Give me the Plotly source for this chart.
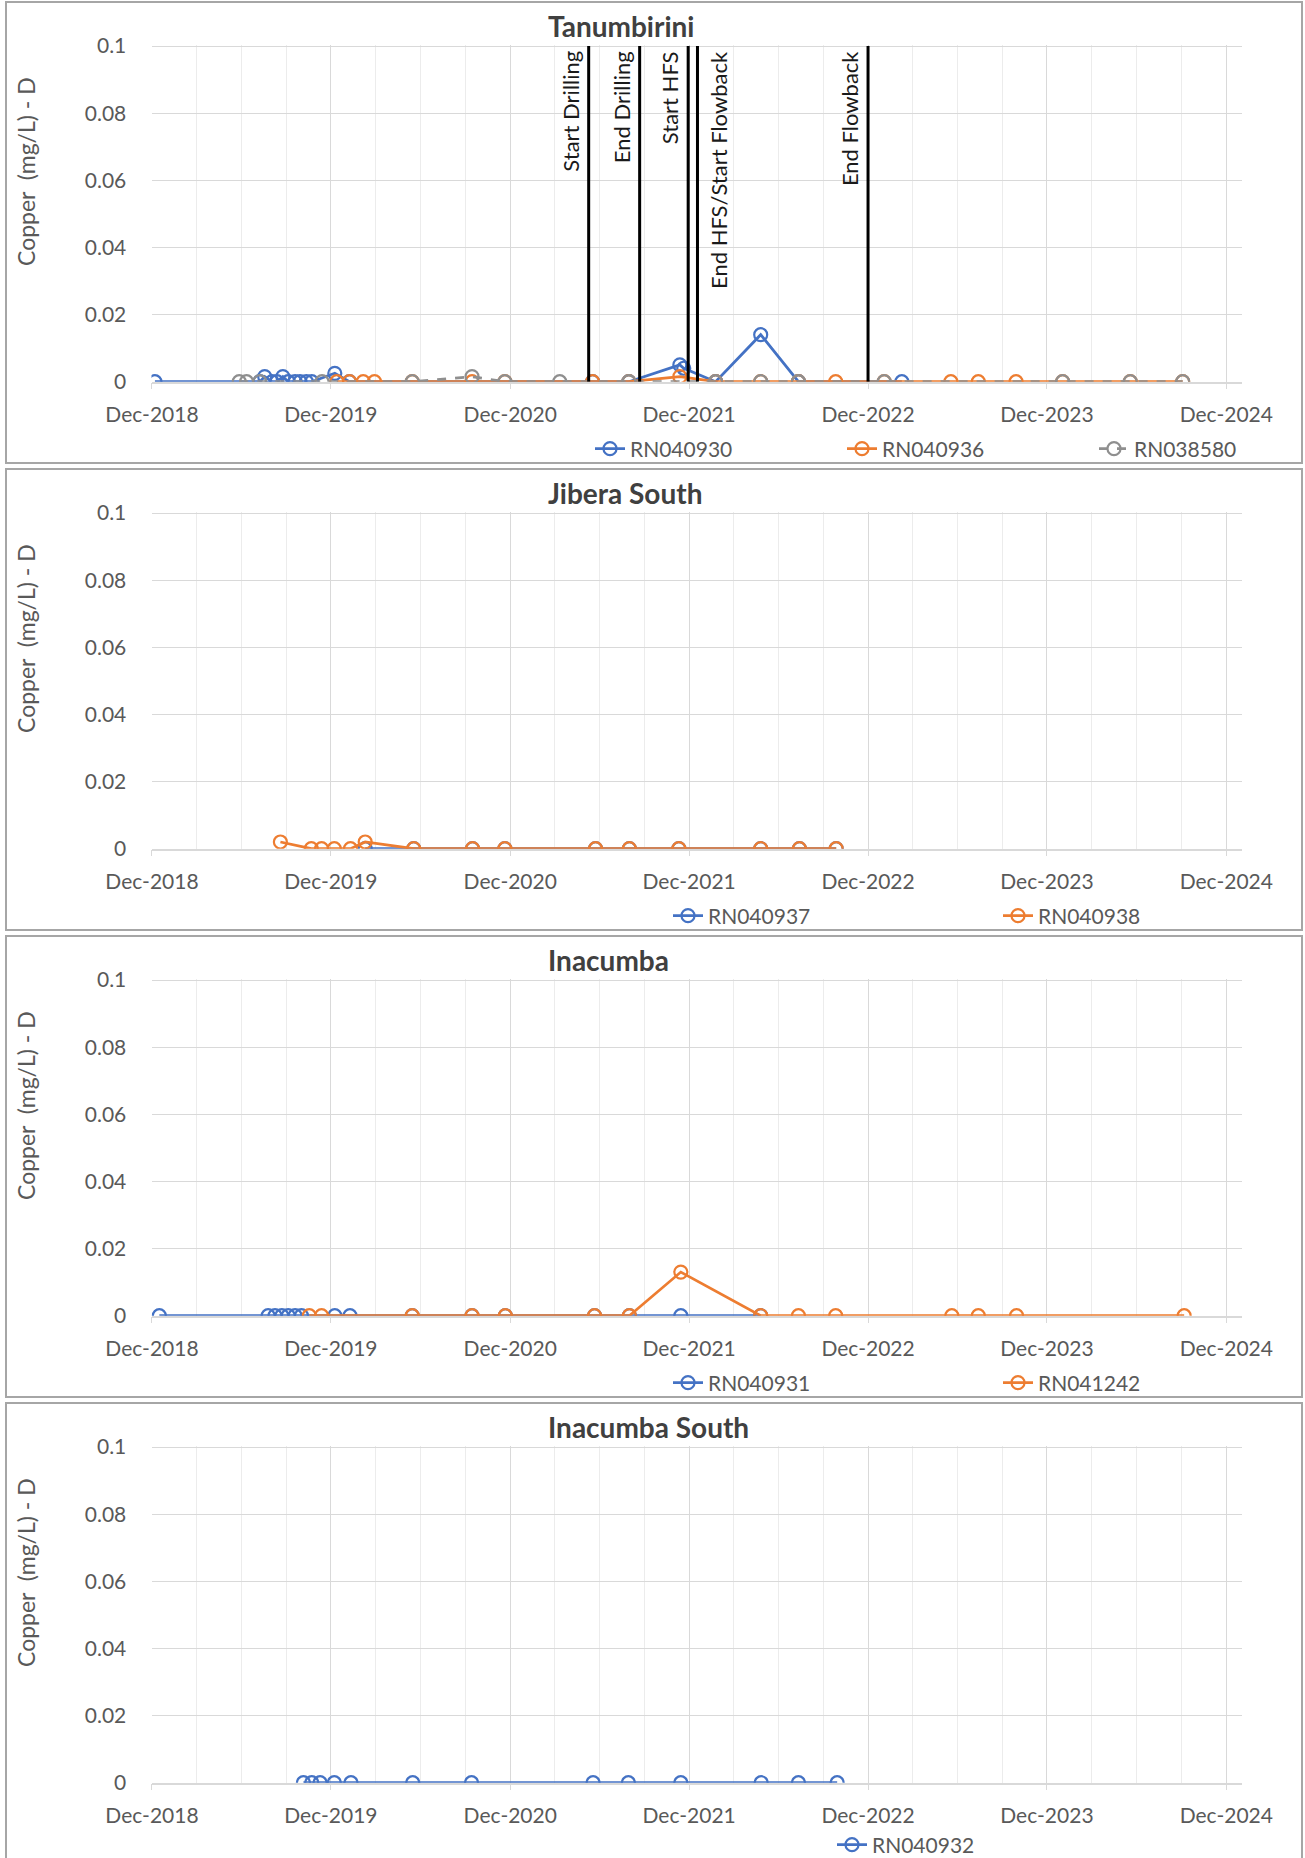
import plotly.graph_objects as go

W, H = 1305, 1858
BLUE = "#4472C4"
ORANGE = "#ED7D31"
GRAY = "#8f8f8f"
FONT = "Lato"
TXT = "#595959"

# ---------------- data ----------------
panel_titles = ["Tanumbirini", "Jibera South", "Inacumba", "Inacumba South"]
y_title = "Copper  (mg/L) - D"
x_tick_start = "2018-12-01"
x_range = ["2018-11-30", "2025-01-01"]

# Tanumbirini
tan_930_dates = ["2018-12-07", "2019-07-09", "2019-07-19", "2019-08-03", "2019-08-13", "2019-08-25",
                 "2019-09-05", "2019-09-19", "2019-09-29", "2019-10-12", "2019-10-23", "2019-12-09",
                 "2020-01-08", "2021-05-18", "2021-07-31", "2021-11-12", "2021-11-20", "2022-01-24",
                 "2022-04-26", "2022-07-12", "2023-02-08"]
tan_930_vals = [0, 0, 0.0015, 0, 0, 0.0015, 0, 0, 0, 0, 0, 0.0025,
                0, 0, 0, 0.005, 0.004, 0, 0.014, 0, 0]

tan_936_dates = ["2019-12-13", "2020-01-08", "2020-02-05", "2020-02-28", "2020-05-15", "2020-09-14",
                 "2020-11-20", "2021-05-18", "2021-07-31", "2021-11-12", "2022-01-24", "2022-04-26",
                 "2022-07-12", "2022-09-26", "2023-01-03", "2023-05-19", "2023-07-14", "2023-09-29",
                 "2024-01-02", "2024-05-19", "2024-09-03"]
tan_936_vals = [0, 0, 0, 0, 0, 0, 0, 0, 0, 0.0015, 0, 0, 0, 0, 0, 0, 0, 0, 0, 0, 0]

tan_580_dates = ["2019-05-28", "2019-06-12", "2019-07-09", "2019-11-13", "2020-05-15", "2020-09-14",
                 "2020-11-20", "2021-03-12", "2021-07-31", "2022-01-24", "2022-04-26", "2022-07-12",
                 "2023-01-03", "2024-01-02", "2024-05-19", "2024-09-03"]
tan_580_vals = [0, 0, 0, 0, 0, 0.0015, 0, 0, 0, 0, 0, 0, 0, 0, 0, 0]

event_dates = ["2021-05-10", "2021-08-22", "2021-11-29", "2021-12-18", "2022-12-01"]
event_labels = ["Start Drilling", "End Drilling", "Start HFS", "End HFS/Start Flowback", "End Flowback"]
event_label_side = ["left", "left", "left", "right", "left"]

# Jibera South
jib_937_dates = ["2020-02-09", "2020-05-18", "2020-09-15", "2020-11-20", "2021-05-24", "2021-08-01",
                 "2021-11-10", "2022-04-26", "2022-07-14", "2022-09-27"]
jib_937_vals = [0, 0, 0, 0, 0, 0, 0, 0, 0, 0]

jib_938_dates = ["2019-08-20", "2019-10-22", "2019-11-12", "2019-12-08", "2020-01-10", "2020-02-09",
                 "2020-05-18", "2020-09-15", "2020-11-20", "2021-05-24", "2021-08-01", "2021-11-10",
                 "2022-04-26", "2022-07-14", "2022-09-27"]
jib_938_vals = [0.002, 0, 0, 0, 0, 0.002, 0, 0, 0, 0, 0, 0, 0, 0, 0]

# Inacumba
ina_931_dates = ["2018-12-16", "2019-07-26", "2019-08-09", "2019-08-23", "2019-09-05", "2019-09-19",
                 "2019-10-02", "2019-12-09", "2020-01-09", "2020-05-15", "2020-09-14", "2020-11-21",
                 "2021-05-22", "2021-08-01", "2021-11-14", "2022-04-26"]
ina_931_vals = [0] * 16

ina_1242_dates = ["2019-10-18", "2019-11-12", "2020-05-15", "2020-09-14", "2020-11-21", "2021-05-22",
                  "2021-08-01", "2021-11-14", "2022-04-26", "2022-07-12", "2022-09-26", "2023-05-21",
                  "2023-07-14", "2023-09-30", "2024-09-06"]
ina_1242_vals = [0, 0, 0, 0, 0, 0, 0, 0.013, 0, 0, 0, 0, 0, 0, 0]

# Inacumba South
ins_932_dates = ["2019-10-06", "2019-10-23", "2019-11-09", "2019-12-08", "2020-01-11", "2020-05-16",
                 "2020-09-13", "2021-05-19", "2021-07-30", "2021-11-14", "2022-04-27", "2022-07-12",
                 "2022-09-29"]
ins_932_vals = [0] * 13

# ---------------- layout geometry (px) ----------------
PLOT_L, PLOT_R = 151.5, 1241.5
PANEL_STEP = 467.0
PLOT_TOP0, PLOT_BOT0 = 45.0, 381.7


def px_x(p):
    return p / W


def px_y(p):
    return 1 - p / H


fig = go.Figure()


def add_series(k, name, dates, vals, color, dash, legend, lw=None):
    fig.add_trace(go.Scatter(
        x=dates, y=vals, name=name, mode="lines+markers",
        line=dict(color=color, width=2.75, dash=dash),
        marker=dict(symbol="circle-open", size=13, color=color, line=dict(width=2.2, color=color)),
        xaxis="x" if k == 0 else f"x{k+1}", yaxis="y" if k == 0 else f"y{k+1}",
        legend=legend, legendwidth=lw,
    ))


add_series(0, "RN040930", tan_930_dates, tan_930_vals, BLUE, "solid", "legend")
add_series(0, "RN040936", tan_936_dates, tan_936_vals, ORANGE, "solid", "legend")
add_series(0, "RN038580", tan_580_dates, tan_580_vals, GRAY, "dash", "legend", lw=100)
add_series(1, "RN040937", jib_937_dates, jib_937_vals, BLUE, "solid", "legend2")
add_series(1, "RN040938", jib_938_dates, jib_938_vals, ORANGE, "solid", "legend2", lw=100)
add_series(2, "RN040931", ina_931_dates, ina_931_vals, BLUE, "solid", "legend3")
add_series(2, "RN041242", ina_1242_dates, ina_1242_vals, ORANGE, "solid", "legend3", lw=100)
add_series(3, "RN040932", ins_932_dates, ins_932_vals, BLUE, "solid", "legend4", lw=100)

layout = dict(
    width=W, height=H, margin=dict(l=0, r=0, t=0, b=0, autoexpand=False),
    paper_bgcolor="white", plot_bgcolor="white",
    font=dict(family=FONT, size=21, color=TXT),
)

shapes = []
annotations = []
for k in range(4):
    top = PLOT_TOP0 + k * PANEL_STEP
    bot = PLOT_BOT0 + k * PANEL_STEP
    xa = "xaxis" if k == 0 else f"xaxis{k+1}"
    ya = "yaxis" if k == 0 else f"yaxis{k+1}"
    layout[xa] = dict(
        domain=[px_x(PLOT_L), px_x(PLOT_R)], anchor="y" if k == 0 else f"y{k+1}",
        type="date", range=x_range, tick0=x_tick_start, dtick="M12", tickformat="%b-%Y",
        showgrid=True, gridcolor="#d9d9d9", gridwidth=1,
        minor=dict(dtick="M3", tick0=x_tick_start, showgrid=True, gridcolor="#ececec", gridwidth=1),
        ticks="outside", ticklen=6, tickcolor="#d9d9d9", tickwidth=1,
        showline=True, linecolor="#d9d9d9", linewidth=1.5, zeroline=False,
        ticklabelstandoff=7, tickfont=dict(size=21, color=TXT, family=FONT),
    )
    layout[ya] = dict(
        domain=[px_y(bot), px_y(top)], anchor="x" if k == 0 else f"x{k+1}",
        range=[0, 0.1003], tick0=0, dtick=0.02, showgrid=True, gridcolor="#d9d9d9", gridwidth=1,
        zeroline=False, showline=False, ticks="outside", ticklen=20, tickcolor="rgba(0,0,0,0)",
        tickfont=dict(size=21, color=TXT, family=FONT),
    )
    # panel border
    shapes.append(dict(type="rect", xref="paper", yref="paper",
                       x0=px_x(6), x1=px_x(1302), y0=px_y(2 + k * PANEL_STEP + 461), y1=px_y(2 + k * PANEL_STEP),
                       line=dict(color="#a6a6a6", width=2), fillcolor="rgba(0,0,0,0)", layer="below"))
    # title
    annotations.append(dict(text=f"<b>{panel_titles[k]}</b>", xref="paper", yref="paper",
                            x=px_x(546), y=px_y(26 + k * PANEL_STEP), xanchor="left", yanchor="middle",
                            showarrow=False, font=dict(size=28, color="#404040", family=FONT)))
    # y title
    annotations.append(dict(text=y_title, xref="paper", yref="paper", textangle=-90,
                            x=px_x(26), y=px_y(top + 127), xanchor="center", yanchor="middle",
                            showarrow=False, font=dict(size=23, color=TXT, family=FONT)))

for d, lab, side in zip(event_dates, event_labels, event_label_side):
    shapes.append(dict(type="line", xref="x", yref="y", x0=d, x1=d, y0=0, y1=0.1,
                       line=dict(color="black", width=3), layer="above"))
    annotations.append(dict(text=lab, xref="x", yref="y", x=d, y=0.1, textangle=-90,
                            xanchor="right" if side == "left" else "left", yanchor="top",
                            xshift=-3 if side == "left" else 5, yshift=-3,
                            showarrow=False, font=dict(size=22, color="#1a1a1a", family=FONT)))

layout["shapes"] = shapes
layout["annotations"] = annotations

leg_common = dict(orientation="h", xanchor="left", yanchor="middle", bgcolor="rgba(0,0,0,0)",
                  entrywidthmode="pixels", font=dict(size=21, color=TXT, family=FONT))
layout["legend"] = dict(leg_common, x=px_x(590), y=px_y(449), entrywidth=207)
layout["legend2"] = dict(leg_common, x=px_x(668), y=px_y(916), entrywidth=285)
layout["legend3"] = dict(leg_common, x=px_x(668), y=px_y(1383), entrywidth=285)
layout["legend4"] = dict(leg_common, x=px_x(832), y=px_y(1845), entrywidth=207)

fig.update_layout(**layout)
fig.write_html("out.html")
